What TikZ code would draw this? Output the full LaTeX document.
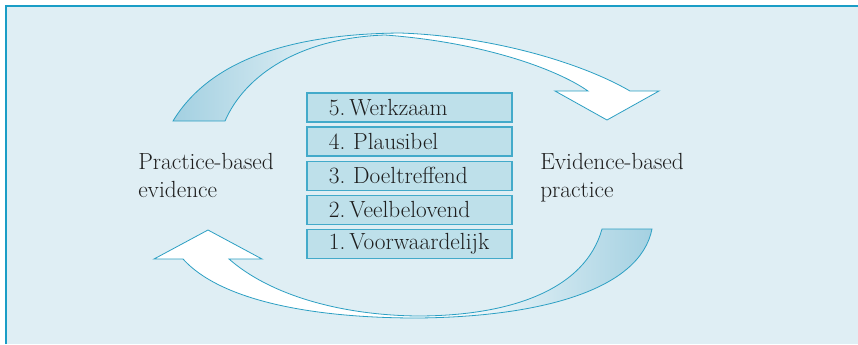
\documentclass[tikz,border=0pt]{standalone}
\usetikzlibrary{positioning}
\definecolor{panelblue}{HTML}{DFEEF4}
\definecolor{framecyan}{HTML}{1A9DC6}
\definecolor{boxfill}{HTML}{BEE0EA}
\definecolor{boxline}{HTML}{43AACA}
\definecolor{arrowline}{HTML}{2B9FC3}
\definecolor{arrowshade}{HTML}{A3D0E1}
\definecolor{inkgray}{HTML}{1E1E1E}

% outline of the two ribbon arrows (px units, y downwards)
\newcommand{\upperband}{(173,121) .. controls (210,60) and (290,34) .. (400,33)
  .. controls (490,36) and (580,62) .. (630,91) -- (659,91) -- (607,120) -- (555,91) -- (588,91)
  .. controls (555,68) and (480,42) .. (385,35) .. controls (300,38) and (245,75) .. (225,121) -- cycle}
\newcommand{\lowerband}{(652,229) .. controls (640,290) and (540,317) .. (417,318)
  .. controls (310,318) and (220,300) .. (183,259) -- (154,259) -- (208,230) -- (262,259) -- (229,259)
  .. controls (270,295) and (340,315) .. (417,316) .. controls (510,316) and (585,290) .. (602,229) -- cycle}

\tikzset{
  rungbox/.style={draw=boxline, line width=0.9pt, fill=boxfill, minimum height=21.75pt,
    text width=121pt, inner xsep=16.4pt, inner ysep=0pt, align=left,
    font=\fontsize{17.5}{20}\selectfont, text=inkgray},
  sidelabel/.style={align=left, inner sep=0pt, font=\fontsize{17.5}{21}\selectfont, text=inkgray},
  bandline/.style={draw=arrowline, line width=0.6pt, line join=miter}
}

\begin{document}
\begin{tikzpicture}[x=0.75pt, y=-0.75pt]
    \useasboundingbox (0,0) rectangle (858,344);

    % Panel
    \fill[panelblue] (6,6) rectangle (858,344);
    \draw[framecyan, line width=1.5pt] (6,344) -- (6,6) -- (858,6);

    % Upper arrow: shaded on the left, white on the right
    \fill[white] \upperband;
    \begin{scope}
        \clip \upperband;
        \shade[left color=arrowshade, right color=white] (173,20) rectangle (400,125);
    \end{scope}
    \draw[bandline] \upperband;

    % Lower arrow: shaded on the right, white on the left
    \fill[white] \lowerband;
    \begin{scope}
        \clip \lowerband;
        \shade[left color=white, right color=arrowshade] (430,225) rectangle (655,322);
    \end{scope}
    \draw[bandline] \lowerband;

    % Levels
    \node[rungbox] (b5) at (409.5,107.5) {5.\,Werkzaam};
    \node[rungbox, below=2.9pt of b5] (b4) {4.\ Plausibel};
    \node[rungbox, below=2.9pt of b4] (b3) {3.\ Doeltreffend};
    \node[rungbox, below=2.9pt of b3] (b2) {2.\,Veelbelovend};
    \node[rungbox, below=2.9pt of b2] (b1) {1.\,Voorwaardelijk};

    % Side labels
    \node[sidelabel, anchor=north west] (pbe) at (138,153) {Practice-based\\evidence};
    \node[sidelabel, anchor=north west] (ebp) at (540,153) {Evidence-based\\practice};
\end{tikzpicture}
\end{document}
